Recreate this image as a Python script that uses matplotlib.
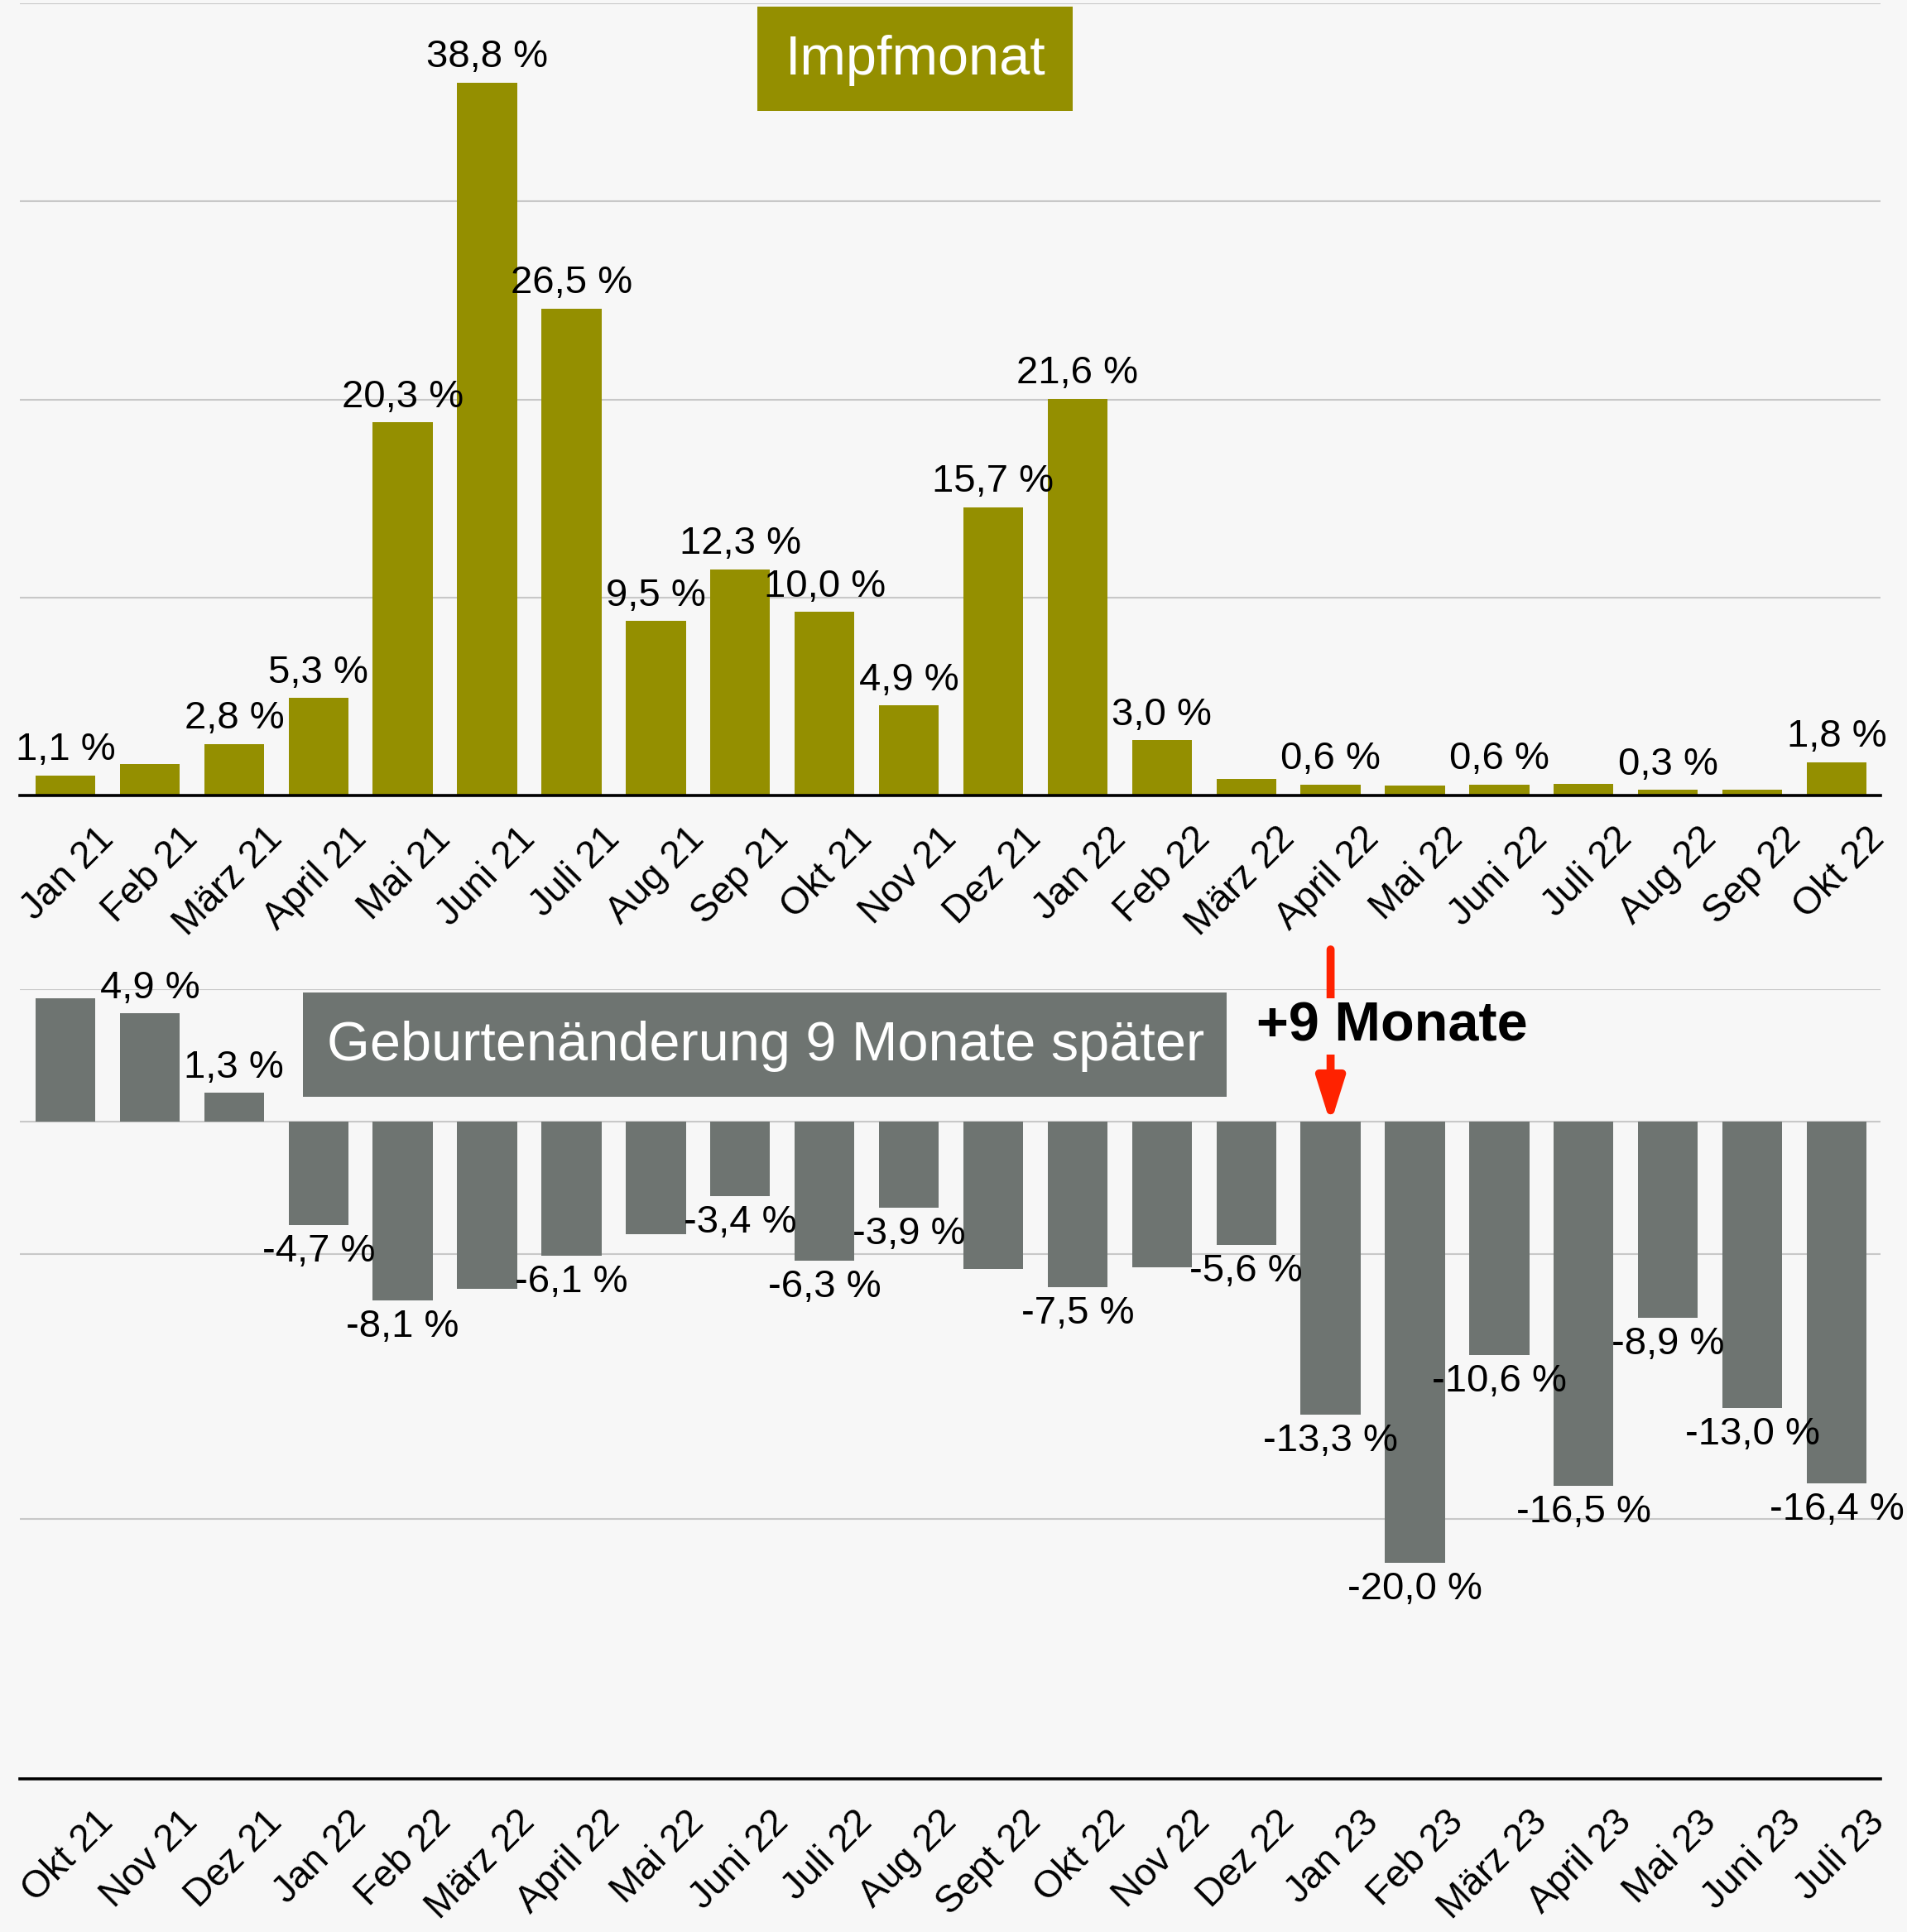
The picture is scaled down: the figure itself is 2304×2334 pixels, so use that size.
import matplotlib
matplotlib.use('Agg')
import matplotlib.pyplot as plt
from matplotlib.patches import Rectangle
import numpy as np

plt.rcParams['font.family'] = ['Liberation Sans', 'DejaVu Sans']

# Impfmonat (Anteil der Impfungen je Monat)
top_months = ['Jan 21', 'Feb 21', 'März 21', 'April 21', 'Mai 21', 'Juni 21', 'Juli 21',
              'Aug 21', 'Sep 21', 'Okt 21', 'Nov 21', 'Dez 21', 'Jan 22', 'Feb 22',
              'März 22', 'April 22', 'Mai 22', 'Juni 22', 'Juli 22', 'Aug 22', 'Sep 22', 'Okt 22']
top_values = [1.1, 1.7, 2.8, 5.3, 20.3, 38.8, 26.5, 9.5, 12.3, 10.0, 4.9, 15.7, 21.6, 3.0,
              0.9, 0.6, 0.55, 0.6, 0.65, 0.3, 0.3, 1.8]
top_show = [1, 0, 1, 1, 1, 1, 1, 1, 1, 1, 1, 1, 1, 1, 0, 1, 0, 1, 0, 1, 0, 1]

# Geburtenänderung 9 Monate später
bot_months = ['Okt 21', 'Nov 21', 'Dez 21', 'Jan 22', 'Feb 22', 'März 22', 'April 22',
              'Mai 22', 'Juni 22', 'Juli 22', 'Aug 22', 'Sept 22', 'Okt 22', 'Nov 22',
              'Dez 22', 'Jan 23', 'Feb 23', 'März 23', 'April 23', 'Mai 23', 'Juni 23', 'Juli 23']
bot_values = [5.6, 4.9, 1.3, -4.7, -8.1, -7.6, -6.1, -5.1, -3.4, -6.3, -3.9, -6.7, -7.5,
              -6.6, -5.6, -13.3, -20.0, -10.6, -16.5, -8.9, -13.0, -16.4]
bot_show = [0, 1, 1, 1, 1, 0, 1, 0, 1, 1, 1, 0, 1, 0, 1, 1, 1, 1, 1, 1, 1, 1]

BG = '#f7f7f7'
OLIVE = '#948f00'
GRAY = '#6e7471'
GRID = '#c8c8c8'
RED = '#ff2200'

W, H, DPI = 2304, 2334, 100
fig = plt.figure(figsize=(W / DPI, H / DPI), dpi=DPI, facecolor=BG)


def px_box(x0, y0, x1, y1):
    return [x0 / W, 1 - y1 / H, (x1 - x0) / W, (y1 - y0) / H]


def fmt(v):
    return f'{v:.1f}'.replace('.', ',') + ' %'


ax1 = fig.add_axes(px_box(24, 4, 2272, 961))
ax2 = fig.add_axes(px_box(24, 1195, 2272, 2149))

for ax, months, vals, show, color in [(ax1, top_months, top_values, top_show, OLIVE),
                                      (ax2, bot_months, bot_values, bot_show, GRAY)]:
    ax.set_facecolor(BG)
    x = np.arange(len(months))
    ax.bar(x, vals, width=0.71, color=color, zorder=2)
    for xi, v, s in zip(x, vals, show):
        if s:
            ax.annotate(fmt(v), (xi, v), xytext=(0, 22 if v >= 0 else -23),
                        textcoords='offset points', ha='center', va='center',
                        fontsize=34, color='black', annotation_clip=False, zorder=4)
    # month labels, rotated like the Excel category axis
    for xi, m in zip(x, months):
        ax.annotate(m, (xi, 0), xycoords=('data', 'axes fraction'), xytext=(37, -33),
                    textcoords='offset points', rotation=45, rotation_mode='anchor',
                    ha='right', va='center', fontsize=33, annotation_clip=False)
    ax.set_xlim(-0.54, len(months) - 0.48)
    ax.set_xticks([])
    ax.tick_params(axis='y', length=0, labelleft=False)
    ax.grid(axis='y', color=GRID, lw=1.5)
    ax.set_axisbelow(True)
    for s in ['left', 'right', 'top']:
        ax.spines[s].set_visible(False)
    ax.spines['bottom'].set_color('black')
    ax.spines['bottom'].set_linewidth(2.6)

ax1.set_ylim(0, 43.12)
ax1.set_yticks(np.arange(0, 5) * 10.78)
ax2.set_ylim(-29.8, 6.0)
ax2.set_yticks([6, 0, -6, -18])

# +9 Monate arrow onto Jan 23
i_jan23 = bot_months.index('Jan 23')
ax2.annotate('', xy=(i_jan23, -0.1), xytext=(i_jan23, 7.8), annotation_clip=False,
             arrowprops=dict(arrowstyle='-|>,head_length=1.6,head_width=0.5',
                             mutation_scale=20, lw=7, color=RED,
                             shrinkA=0, shrinkB=0), zorder=3)
fig.text(1682 / W, 1 - 1240 / H, '+9 Monate', fontsize=48, fontweight='bold',
         ha='center', va='center', color='black', zorder=10,
         bbox=dict(boxstyle='square,pad=0.05', fc=BG, ec='none'))

# title boxes
fig.add_artist(Rectangle((915 / W, 1 - 134 / H), 381 / W, 126 / H,
                         transform=fig.transFigure, fc=OLIVE, ec='none', zorder=5))
fig.text(1106 / W, 1 - 73 / H, 'Impfmonat', fontsize=48, color='white',
         ha='center', va='center', zorder=6)
fig.add_artist(Rectangle((366 / W, 1 - 1325 / H), 1116 / W, 126 / H,
                         transform=fig.transFigure, fc=GRAY, ec='none', zorder=5))
fig.text(925 / W, 1 - 1264 / H, 'Geburtenänderung 9 Monate später', fontsize=48,
         color='white', ha='center', va='center', zorder=6)

fig.savefig('out.png', dpi=DPI, facecolor=BG)
